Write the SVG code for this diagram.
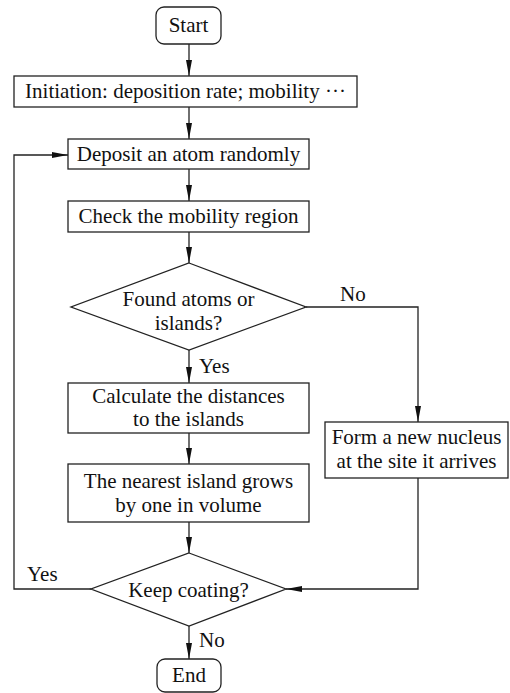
<svg xmlns="http://www.w3.org/2000/svg" width="510" height="693" viewBox="0 0 510 693">
<style>
.b{fill:#fff;stroke:#222;stroke-width:1.3}
.c{fill:none;stroke:#222;stroke-width:1.3}
text{font-family:"Liberation Serif","Times New Roman",serif;font-size:21px;fill:#111;text-anchor:middle}
.l{text-anchor:start}
</style>
<defs>
<marker id="a" markerWidth="16" markerHeight="7" refX="16" refY="3.5" orient="auto" markerUnits="userSpaceOnUse">
<path d="M0,0.5 L16,3.5 L0,6.5 z" fill="#111"/>
</marker>
</defs>
<rect width="510" height="693" fill="#fff"/>
<g id="connectors">
<path class="c" d="M189,44 V76" marker-end="url(#a)"/>
<path class="c" d="M189,107 V139" marker-end="url(#a)"/>
<path class="c" d="M189,169 V201" marker-end="url(#a)"/>
<path class="c" d="M189,232 V263" marker-end="url(#a)"/>
<path class="c" d="M189,350 V383" marker-end="url(#a)"/>
<path class="c" d="M189,433 V464" marker-end="url(#a)"/>
<path class="c" d="M189,522 V553" marker-end="url(#a)"/>
<path class="c" d="M189,626 V659" marker-end="url(#a)"/>
<path class="c" d="M306,307 H418 V422" marker-end="url(#a)"/>
<path class="c" d="M418,478 V589 H286" marker-end="url(#a)"/>
<path class="c" d="M91,589 H14 V155 H68" marker-end="url(#a)"/>
<text class="l" x="340" y="301">No</text>
<text class="l" x="199" y="373">Yes</text>
<text class="l" x="27" y="581">Yes</text>
<text class="l" x="199" y="647">No</text>
</g>
<g id="start">
<rect class="b" x="156" y="7" width="65" height="37" rx="8"/>
<text x="188.5" y="32">Start</text>
</g>
<g id="init">
<rect class="b" x="14" y="76" width="343" height="31"/>
<text x="185.5" y="98">Initiation: deposition rate; mobility ···</text>
</g>
<g id="deposit">
<rect class="b" x="68" y="139" width="241" height="30"/>
<text x="188.5" y="161">Deposit an atom randomly</text>
</g>
<g id="check">
<rect class="b" x="68" y="201" width="241" height="31"/>
<text x="188.5" y="223">Check the mobility region</text>
</g>
<g id="found">
<polygon class="b" points="189,263 306,307 189,350 71,307"/>
<text x="188.5" y="306">Found atoms or</text>
<text x="188.5" y="330">islands?</text>
</g>
<g id="calc">
<rect class="b" x="68" y="383" width="241" height="50"/>
<text x="188.5" y="403">Calculate the distances</text>
<text x="188.5" y="426">to the islands</text>
</g>
<g id="nearest">
<rect class="b" x="68" y="464" width="241" height="58"/>
<text x="188.5" y="488">The nearest island grows</text>
<text x="188.5" y="512">by one in volume</text>
</g>
<g id="form">
<rect class="b" x="325" y="422" width="183" height="56"/>
<text x="416.5" y="444">Form a new nucleus</text>
<text x="416.5" y="468">at the site it arrives</text>
</g>
<g id="keep">
<polygon class="b" points="189,553 286,589 189,626 91,589"/>
<text x="188.5" y="597">Keep coating?</text>
</g>
<g id="end">
<rect class="b" x="157" y="659" width="64" height="33" rx="8"/>
<text x="189" y="682">End</text>
</g>
</svg>
